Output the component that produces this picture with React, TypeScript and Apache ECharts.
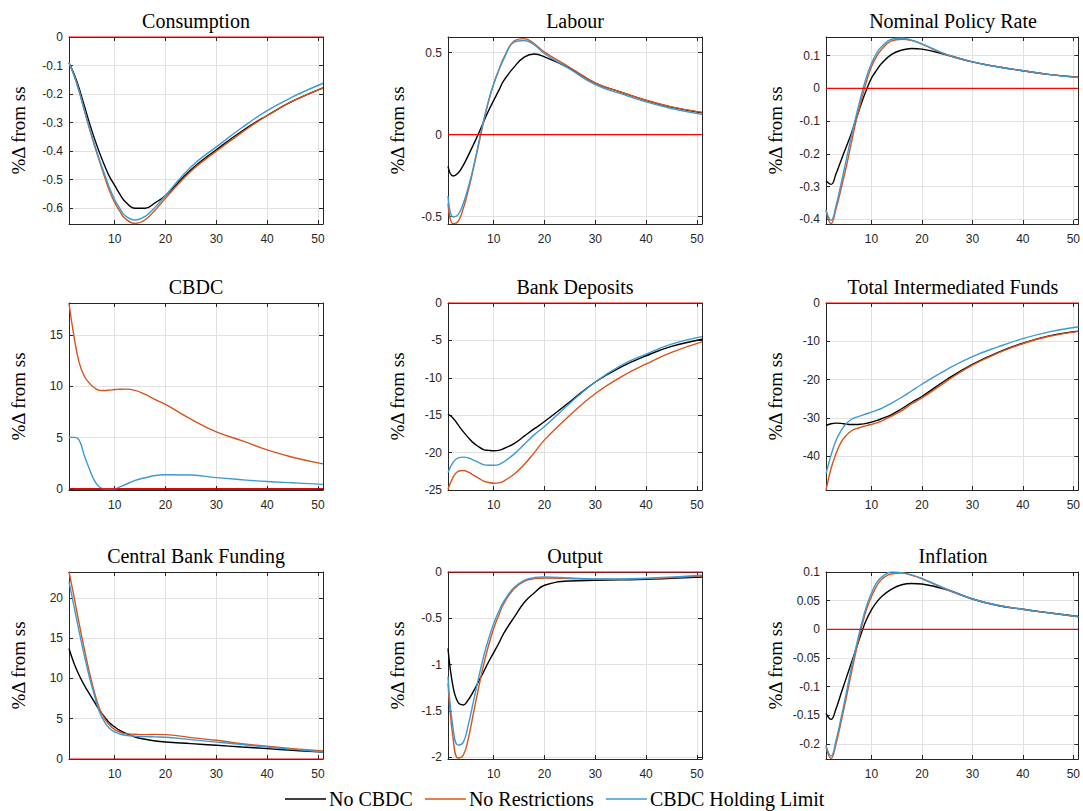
import React, { useEffect, useRef } from "react";
import * as echarts from "echarts";

// ---------- data ----------
const X = [1, 2, 3, 4, 5, 6, 7, 8, 9, 10, 11, 12, 14, 16, 18, 20, 25, 30, 35, 40, 45, 51];
const X_TICKS = [10, 20, 30, 40, 50];
const SERIES_NAMES = ["No CBDC", "No Restrictions", "CBDC Holding Limit"];
const TITLES = [
  "Consumption", "Labour", "Nominal Policy Rate",
  "CBDC", "Bank Deposits", "Total Intermediated Funds",
  "Central Bank Funding", "Output", "Inflation",
];
const Y_NAME = "%Δ from ss";
const STEADY_STATE = 0;

const consNoCBDC = [-0.09, -0.13, -0.18, -0.24, -0.3, -0.355, -0.405, -0.45, -0.49, -0.52, -0.55, -0.575, -0.6, -0.6, -0.58, -0.555, -0.465, -0.395, -0.33, -0.275, -0.225, -0.178];
const consNoRestr = [-0.09, -0.135, -0.19, -0.255, -0.32, -0.38, -0.435, -0.49, -0.54, -0.58, -0.61, -0.635, -0.653, -0.64, -0.605, -0.565, -0.47, -0.4, -0.335, -0.275, -0.225, -0.178];
const consLimit = [-0.09, -0.135, -0.19, -0.255, -0.315, -0.375, -0.43, -0.48, -0.53, -0.57, -0.6, -0.625, -0.641, -0.628, -0.595, -0.555, -0.455, -0.385, -0.318, -0.258, -0.21, -0.162];

const labNoCBDC = [-0.193, -0.252, -0.234, -0.187, -0.126, -0.061, 0.006, 0.077, 0.148, 0.209, 0.27, 0.331, 0.412, 0.473, 0.492, 0.475, 0.405, 0.315, 0.26, 0.209, 0.168, 0.134];
const labNoRestr = [-0.42, -0.543, -0.529, -0.451, -0.34, -0.207, -0.065, 0.077, 0.205, 0.311, 0.395, 0.47, 0.571, 0.586, 0.555, 0.504, 0.41, 0.315, 0.26, 0.21, 0.17, 0.136];
const labLimit = [-0.374, -0.502, -0.488, -0.42, -0.32, -0.198, -0.055, 0.087, 0.209, 0.311, 0.392, 0.463, 0.565, 0.575, 0.548, 0.494, 0.4, 0.305, 0.25, 0.2, 0.16, 0.124];

const rateNoCBDC = [-0.283, -0.293, -0.26, -0.219, -0.179, -0.138, -0.092, -0.046, -0.005, 0.031, 0.055, 0.076, 0.104, 0.117, 0.122, 0.12, 0.102, 0.081, 0.066, 0.054, 0.043, 0.034];
const rateNoRestr = [-0.372, -0.413, -0.367, -0.306, -0.24, -0.168, -0.097, -0.036, 0.02, 0.066, 0.097, 0.119, 0.145, 0.15, 0.146, 0.135, 0.102, 0.081, 0.066, 0.054, 0.043, 0.034];
const rateLimit = [-0.372, -0.403, -0.357, -0.29, -0.219, -0.148, -0.082, -0.02, 0.034, 0.076, 0.107, 0.127, 0.15, 0.153, 0.147, 0.136, 0.103, 0.081, 0.066, 0.054, 0.043, 0.033];

const cbdcNoCBDC = [0, 0, 0, 0, 0, 0, 0, 0, 0, 0, 0, 0, 0, 0, 0, 0, 0, 0, 0, 0, 0, 0];
const cbdcNoRestr = [18.05, 14.8, 12.3, 11.0, 10.3, 9.85, 9.6, 9.58, 9.62, 9.68, 9.7, 9.72, 9.6, 9.2, 8.7, 8.23, 6.8, 5.56, 4.7, 3.8, 3.09, 2.44];
const cbdcLimit = [5.02, 5.02, 4.76, 3.25, 1.96, 0.83, 0.19, 0, 0, 0, 0.2, 0.41, 0.83, 1.09, 1.31, 1.38, 1.36, 1.1, 0.9, 0.73, 0.6, 0.45];

const depNoCBDC = [-14.84, -15.4, -16.3, -17.2, -18.0, -18.7, -19.2, -19.6, -19.7, -19.76, -19.7, -19.45, -18.8, -17.8, -16.8, -15.85, -13.2, -10.56, -8.58, -7.05, -5.8, -4.84];
const depNoRestr = [-24.9, -23.3, -22.5, -22.4, -22.6, -23.0, -23.4, -23.8, -24.0, -24.1, -24.05, -23.8, -22.9, -21.6, -20.0, -18.3, -15.0, -12.1, -9.9, -8.15, -6.6, -5.2];
const depLimit = [-22.66, -21.3, -20.7, -20.6, -20.7, -21.0, -21.3, -21.6, -21.7, -21.7, -21.6, -21.25, -20.2, -18.9, -17.6, -16.5, -13.4, -10.56, -8.37, -6.83, -5.5, -4.5];

const tifNoCBDC = [-31.97, -31.5, -31.35, -31.4, -31.6, -31.7, -31.7, -31.6, -31.4, -31.1, -30.7, -30.2, -29.1, -27.6, -25.9, -24.4, -19.9, -16.0, -12.95, -10.5, -8.65, -7.35];
const tifNoRestr = [-48.8, -43.2, -39.3, -36.3, -34.6, -33.4, -32.8, -32.4, -32.0, -31.7, -31.3, -30.8, -29.5, -28.1, -26.3, -24.8, -20.3, -16.2, -13.1, -10.6, -8.75, -7.4];
const tifLimit = [-44.5, -39.7, -35.8, -33.3, -31.5, -30.4, -29.8, -29.4, -28.9, -28.5, -28.0, -27.5, -26.1, -24.6, -22.9, -21.2, -17.3, -14.0, -11.5, -9.3, -7.6, -6.2];

const cbfNoCBDC = [13.7, 11.85, 10.4, 9.16, 8.1, 7.08, 6.05, 5.22, 4.47, 3.98, 3.55, 3.23, 2.73, 2.45, 2.24, 2.11, 1.91, 1.7, 1.49, 1.29, 1.08, 0.87];
const cbfNoRestr = [23.2, 20.1, 16.8, 13.7, 10.8, 8.3, 6.26, 5.0, 4.19, 3.65, 3.35, 3.15, 3.07, 3.03, 3.05, 3.03, 2.65, 2.32, 1.9, 1.58, 1.29, 0.99];
const cbfLimit = [22.0, 18.9, 15.8, 12.9, 10.2, 7.9, 5.84, 4.6, 3.78, 3.36, 3.1, 2.95, 2.82, 2.78, 2.74, 2.7, 2.4, 2.1, 1.8, 1.49, 1.2, 0.87];

const outNoCBDC = [-0.826, -1.24, -1.41, -1.436, -1.38, -1.29, -1.185, -1.08, -0.97, -0.87, -0.77, -0.66, -0.49, -0.33, -0.225, -0.143, -0.097, -0.09, -0.085, -0.079, -0.068, -0.054];
const outNoRestr = [-1.2, -1.795, -2.01, -1.98, -1.8, -1.526, -1.257, -1.005, -0.79, -0.61, -0.467, -0.34, -0.18, -0.1, -0.072, -0.065, -0.07, -0.078, -0.078, -0.072, -0.06, -0.045];
const outLimit = [-1.13, -1.69, -1.87, -1.84, -1.65, -1.4, -1.15, -0.915, -0.72, -0.556, -0.424, -0.316, -0.168, -0.09, -0.06, -0.054, -0.065, -0.075, -0.075, -0.068, -0.055, -0.035];

const infNoCBDC = [-0.1465, -0.157, -0.138, -0.1115, -0.085, -0.059, -0.033, -0.0066, 0.0166, 0.034, 0.047, 0.057, 0.07, 0.0778, 0.08, 0.079, 0.069, 0.053, 0.0417, 0.035, 0.029, 0.0224];
const infNoRestr = [-0.205, -0.225, -0.199, -0.161, -0.12, -0.077, -0.036, 0.002, 0.034, 0.057, 0.075, 0.087, 0.097, 0.098, 0.094, 0.088, 0.069, 0.053, 0.042, 0.035, 0.029, 0.022];
const infLimit = [-0.202, -0.221, -0.193, -0.154, -0.1115, -0.068, -0.029, 0.008, 0.04, 0.063, 0.081, 0.091, 0.1, 0.099, 0.095, 0.089, 0.07, 0.053, 0.042, 0.035, 0.029, 0.022];

const PANEL_DATA = [
  [consNoCBDC, consNoRestr, consLimit],
  [labNoCBDC, labNoRestr, labLimit],
  [rateNoCBDC, rateNoRestr, rateLimit],
  [cbdcNoCBDC, cbdcNoRestr, cbdcLimit],
  [depNoCBDC, depNoRestr, depLimit],
  [tifNoCBDC, tifNoRestr, tifLimit],
  [cbfNoCBDC, cbfNoRestr, cbfLimit],
  [outNoCBDC, outNoRestr, outLimit],
  [infNoCBDC, infNoRestr, infLimit],
];

const Y_MIN = [-0.655, -0.545, -0.414, -0.1, -25, -48.8, 0, -2.02, -0.226];
const Y_MAX = [0, 0.596, 0.157, 18.1, 0, 0, 23.2, 0, 0.1];
const Y_TICKS = [
  [-0.6, -0.5, -0.4, -0.3, -0.2, -0.1, 0],
  [-0.5, 0, 0.5],
  [-0.4, -0.3, -0.2, -0.1, 0, 0.1],
  [0, 5, 10, 15],
  [-25, -20, -15, -10, -5, 0],
  [-40, -30, -20, -10, 0],
  [0, 5, 10, 15, 20],
  [-2, -1.5, -1, -0.5, 0],
  [-0.2, -0.15, -0.1, -0.05, 0, 0.05, 0.1],
];

// ---------- styles / layout ----------
const COLORS = ["#000000", "#D95319", "#3A9AD6"];
const ZERO_COLOR = "#FF0000";
const AXIS_COLOR = "#262626";
const GRID_COLOR = "#e1e1e1";
const SERIF = "'Liberation Serif', 'Times New Roman', serif";
const SANS = "'Liberation Sans', Arial, Helvetica, sans-serif";
const LEFTS = [69, 448, 826];
const TOPS = [37, 303, 572];
const W = 254;
const H = 187;

const fmt = (v: number) => String(parseFloat(Number(v).toFixed(4)));

function buildOption() {
  const grid: any[] = [];
  const xAxis: any[] = [];
  const yAxis: any[] = [];
  const series: any[] = [];
  const graphic: any[] = [];
  const axisLine = { show: true, onZero: false, lineStyle: { color: AXIS_COLOR, width: 1 } };

  PANEL_DATA.forEach((panel, i) => {
    const col = i % 3;
    const row = Math.floor(i / 3);
    grid.push({ left: LEFTS[col], top: TOPS[row], width: W, height: H });
    const xMin = X[0];
    const xMax = X[X.length - 1];
    xAxis.push({
      gridIndex: i, type: "value", position: "bottom", min: xMin, max: xMax,
      axisLine,
      axisTick: { show: true, inside: true, length: 4, customValues: X_TICKS, lineStyle: { color: AXIS_COLOR } },
      axisLabel: { show: true, customValues: X_TICKS, margin: 9, color: AXIS_COLOR, fontFamily: SANS, fontSize: 12, formatter: fmt },
      splitLine: { show: true, lineStyle: { color: GRID_COLOR, width: 1 } },
    });
    xAxis.push({
      gridIndex: i, type: "value", position: "top", min: xMin, max: xMax,
      axisLine,
      axisTick: { show: true, inside: true, length: 4, customValues: X_TICKS, lineStyle: { color: AXIS_COLOR } },
      axisLabel: { show: false },
      splitLine: { show: false },
    });
    yAxis.push({
      gridIndex: i, type: "value", position: "left", min: Y_MIN[i], max: Y_MAX[i],
      name: Y_NAME, nameLocation: "middle", nameRotate: 90, nameGap: 41,
      nameTextStyle: { fontFamily: SERIF, fontSize: 19, color: "#000" },
      axisLine,
      axisTick: { show: true, inside: true, length: 4, customValues: Y_TICKS[i], lineStyle: { color: AXIS_COLOR } },
      axisLabel: { show: true, customValues: Y_TICKS[i], margin: 6, color: AXIS_COLOR, fontFamily: SANS, fontSize: 12, formatter: fmt },
      splitLine: { show: true, lineStyle: { color: GRID_COLOR, width: 1 } },
    });
    yAxis.push({
      gridIndex: i, type: "value", position: "right", min: Y_MIN[i], max: Y_MAX[i],
      axisLine,
      axisTick: { show: true, inside: true, length: 4, customValues: Y_TICKS[i], lineStyle: { color: AXIS_COLOR } },
      axisLabel: { show: false },
      splitLine: { show: false },
    });

    panel.forEach((vals, s) => {
      series.push({
        type: "line",
        name: SERIES_NAMES[s],
        xAxisIndex: 2 * i,
        yAxisIndex: 2 * i,
        data: X.map((x, k) => [x, vals[k]]),
        symbol: "none",
        smooth: 0.45,
        color: COLORS[s],
        lineStyle: { color: COLORS[s], width: 1.4 },
        z: 3 + s,
        silent: true,
      });
    });
    series.push({
      type: "line",
      name: "steady state",
      xAxisIndex: 2 * i,
      yAxisIndex: 2 * i,
      data: [[xMin, STEADY_STATE], [xMax, STEADY_STATE]],
      symbol: "none",
      color: ZERO_COLOR,
      lineStyle: { color: ZERO_COLOR, width: 1.2 },
      clip: false,
      z: 10,
      silent: true,
    });

    graphic.push({
      type: "text",
      x: LEFTS[col] + W / 2,
      y: TOPS[row] - 16,
      style: {
        text: TITLES[i],
        font: `20px ${SERIF}`,
        fill: "#000",
        align: "center",
        verticalAlign: "middle",
      },
    });
  });

  return {
    animation: false,
    backgroundColor: "#ffffff",
    grid,
    xAxis,
    yAxis,
    series,
    graphic,
    legend: {
      data: SERIES_NAMES.map((name, s) => ({ name, icon: "rect", itemStyle: { color: COLORS[s] } })),
      left: 285,
      top: 789,
      itemWidth: 41,
      itemHeight: 1.5,
      itemGap: 12,
      padding: 0,
      textStyle: { fontFamily: SERIF, fontSize: 20, lineHeight: 20, color: "#000", padding: [0, 0, 0, -2] },
      selectedMode: false,
    },
  };
}

export default function App() {
  const ref = useRef<HTMLDivElement>(null);
  useEffect(() => {
    if (!ref.current) return;
    const chart = echarts.init(ref.current, null, { renderer: "svg" });
    chart.setOption(buildOption());
    return () => chart.dispose();
  }, []);
  return (
    <div
      ref={ref}
      style={{ position: "absolute", left: 0, top: 0, width: 1083, height: 811, background: "#fff" }}
    />
  );
}
